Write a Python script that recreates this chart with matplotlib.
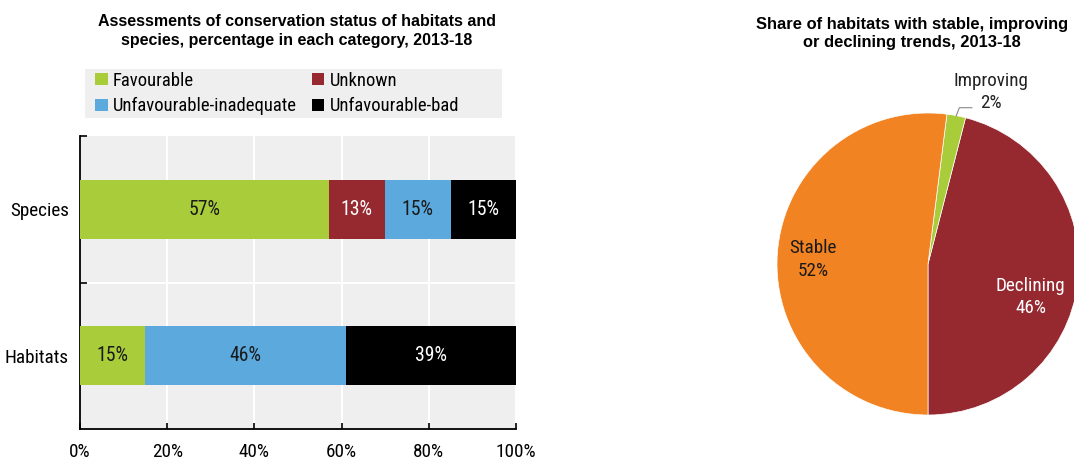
import matplotlib
matplotlib.use("Agg")
import matplotlib.pyplot as plt
from matplotlib import font_manager as fm
from matplotlib.patches import Patch
import numpy as np

# Conservation status assessments (percent)
groups = ["Habitats", "Species"]
status_names = ["Favourable", "Unknown", "Unfavourable-inadequate", "Unfavourable-bad"]
favourable = [15, 57]
unknown = [0, 13]
unfav_inadequate = [46, 15]
unfav_bad = [39, 15]
x_ticks = [0, 20, 40, 60, 80, 100]

# Habitat trends (percent)
trend_names = ["Declining", "Improving", "Stable"]
trend_values = [46, 2, 52]

GREEN = "#A9CD3A"
RED = "#962830"
BLUE = "#5CA9DD"
BLACK = "#000000"
ORANGE = "#F28322"
BG = "#EFEFEF"


def pick_narrow():
    """Prefer a narrow sans face; fall back to Liberation Sans."""
    for fam, stretch in [("Liberation Sans Narrow", "normal"),
                         ("Arial Narrow", "normal"),
                         ("Roboto Condensed", "normal"),
                         ("DejaVu Sans", "condensed")]:
        try:
            path = fm.findfont(fm.FontProperties(family=fam, stretch=stretch),
                               fallback_to_default=False)
        except Exception:
            continue
        low = path.lower()
        if "narrow" in low or "condensed" in low:
            return fam, stretch
    return "Liberation Sans", "normal"


NARROW, STRETCH = pick_narrow()
plt.rcParams["font.family"] = [NARROW, "Liberation Sans", "DejaVu Sans"]
plt.rcParams["font.stretch"] = STRETCH
BOLD = ["Liberation Sans", "DejaVu Sans"]

W, H = 1074, 461
fig = plt.figure(figsize=(W / 100, H / 100), dpi=100)


def px_axes(x0, y0, x1, y1):
    return fig.add_axes([x0 / W, 1 - y1 / H, (x1 - x0) / W, (y1 - y0) / H])


FS = 13.8
FS_BAR = 14.2
FS_LEG = 13.4

# ---------- stacked bar panel ----------
ax = px_axes(80, 136, 516, 429)
ax.set_facecolor(BG)
y = np.arange(len(groups))
series = [favourable, unknown, unfav_inadequate, unfav_bad]
colors = [GREEN, RED, BLUE, BLACK]
text_colors = ["#1a1a1a", "white", "#1a1a1a", "white"]
left = np.zeros(len(groups))
for vals, col, tcol in zip(series, colors, text_colors):
    vals = np.array(vals, dtype=float)
    ax.barh(y, vals, left=left, height=0.4, color=col, zorder=3)
    for yi, (l, v) in enumerate(zip(left, vals)):
        if v > 0:
            ax.text(l + v / 2, yi, f"{int(v)}%", ha="center", va="center",
                    color=tcol, fontsize=FS_BAR, zorder=4)
    left += vals

ax.set_xlim(0, 100)
ax.set_ylim(-0.5, 1.5)
ax.set_xticks(x_ticks)
ax.set_xticklabels([f"{t}%" for t in x_ticks], fontsize=FS)
ax.set_yticks(y)
ax.set_yticklabels(groups, fontsize=FS)
ax.set_yticks([0.5, 1.5], minor=True)
ax.tick_params(axis="y", which="major", length=0, pad=8)
ax.tick_params(axis="y", which="minor", length=5, width=1.2, direction="in", color="black")
ax.tick_params(axis="x", length=4, width=1.2, direction="in", pad=10)
ax.grid(axis="x", color="white", linewidth=1.5, zorder=1)
ax.axhline(0.5, color="white", linewidth=1.5, zorder=1)
for s in ["top", "right"]:
    ax.spines[s].set_visible(False)
for s in ["left", "bottom"]:
    ax.spines[s].set_linewidth(1.3)

fig.text(297 / W, 1 - 31 / H,
         "Assessments of conservation status of habitats and\nspecies, percentage in each category, 2013-18",
         ha="center", va="center", fontsize=11.5, fontweight="bold",
         family=BOLD, fontstretch="normal", linespacing=1.25)

# legend box (row-wise order: Favourable, Unknown / inadequate, bad)
lax = px_axes(85, 69, 502, 118)
lax.set_facecolor(BG)
lax.set_xticks([])
lax.set_yticks([])
for s in lax.spines.values():
    s.set_visible(False)
order = [0, 2, 1, 3]
handles = [Patch(facecolor=colors[i], edgecolor="none") for i in order]
labels = [status_names[i] for i in order]
lax.legend(handles, labels, ncol=2, loc="center left", frameon=False,
           fontsize=FS_LEG, handlelength=0.65, handleheight=0.65, handletextpad=0.3,
           columnspacing=0.8, labelspacing=0.42, borderaxespad=0.0,
           borderpad=0.0, bbox_to_anchor=(0.025, 0.5))

# ---------- pie panel ----------
pax = px_axes(777, 113, 1079, 415)
wedges, _ = pax.pie(trend_values, colors=[RED, GREEN, ORANGE], startangle=-90,
                    counterclock=True, radius=1,
                    wedgeprops=dict(linewidth=0.5, edgecolor="white"))
pax.set_xlim(-1, 1)
pax.set_ylim(-1, 1)
pax.set_aspect("equal")
pax.axis("off")

label_pos = {"Declining": (0.68, -0.22, "white"),
             "Improving": (0.42, 1.14, "#222222"),
             "Stable": (-0.76, 0.03, "#1a1a1a")}
for name, v in zip(trend_names, trend_values):
    lx, ly, c = label_pos[name]
    pax.text(lx, ly, f"{name}\n{v}%", ha="center", va="center", color=c,
             fontsize=FS, linespacing=1.3, clip_on=False)

# leader line for the small slice
imp = wedges[1]
mid = np.deg2rad((imp.theta1 + imp.theta2) / 2)
ex, ey = np.cos(mid), np.sin(mid)
pax.plot([ex, ex + 0.02, 0.29], [ey, 1.035, 1.035], color="#888888",
         linewidth=0.8, clip_on=False)

fig.text(912 / W, 1 - 33 / H,
         "Share of habitats with stable, improving\nor declining trends, 2013-18",
         ha="center", va="center", fontsize=11.9, fontweight="bold",
         family=BOLD, fontstretch="normal", linespacing=1.25)

fig.savefig("out.png", dpi=100)
